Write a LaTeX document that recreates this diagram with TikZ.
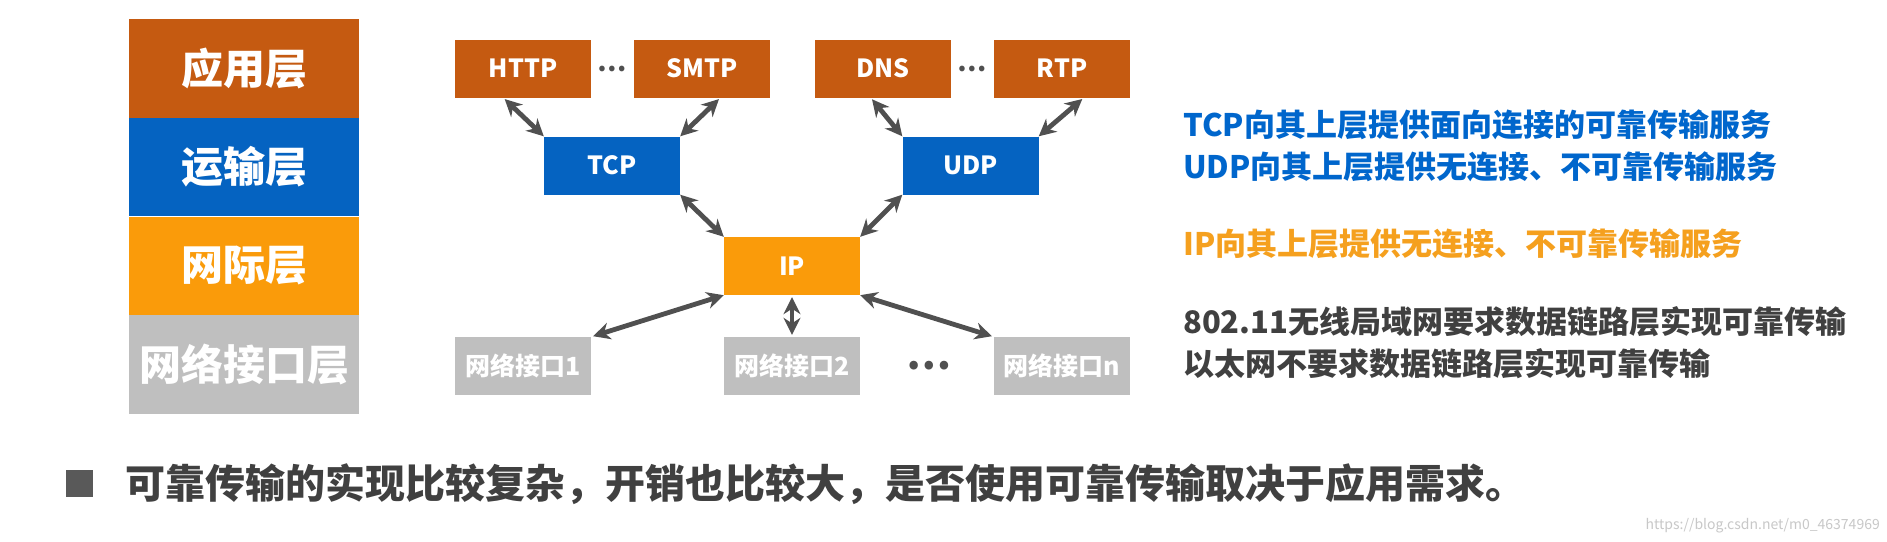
\documentclass[tikz,border=0pt]{standalone}
\usepackage{fontspec}
\setmainfont{Noto Sans CJK SC}
\usetikzlibrary{arrows.meta,calc}
\definecolor{appc}{RGB}{197,90,17}
\definecolor{trc}{RGB}{5,99,193}
\definecolor{ipc}{RGB}{250,155,10}
\definecolor{nic}{RGB}{191,191,191}
\definecolor{arrc}{RGB}{80,80,80}
\definecolor{bluetxt}{RGB}{0,102,204}
\definecolor{orgtxt}{RGB}{245,160,30}
\definecolor{graytxt}{RGB}{64,64,64}
\definecolor{sqc}{RGB}{89,89,89}
\definecolor{wmk}{RGB}{200,200,200}
\begin{document}
\begin{tikzpicture}[x=1pt,y=-1pt,
  layer/.style={minimum width=230pt, minimum height=98.75pt, inner sep=0pt, text=white,
    font=\fontsize{42}{42}\selectfont\bfseries},
  proto/.style={minimum width=136pt, minimum height=58pt, inner sep=0pt, text=white,
    font=\fontsize{25}{25}\selectfont\bfseries},
  link/.style={{Stealth[length=17pt,width=17pt]}-{Stealth[length=17pt,width=17pt]},
    line width=4.8pt, draw=arrc},
  dotsnode/.style={text=arrc, inner sep=0pt, font=\fontsize{26}{26}\selectfont\bfseries},
  note/.style={anchor=west, inner sep=0pt, font=\fontsize{31}{31}\selectfont\bfseries}]
\useasboundingbox[fill=white] (0,0) rectangle (1887,541);

% layer stack
\node[layer, fill=appc] (l1) at (244,68.4) {应用层};
\node[layer, fill=trc]  (l2) at (244,167.1) {运输层};
\node[layer, fill=ipc]  (l3) at (244,265.9) {网际层};
\node[layer, fill=nic]  (l4) at (244,364.6) {网络接口层};

% protocol boxes
\node[proto, fill=appc] (http) at (523,68.5) {HTTP};
\node[proto, fill=appc] (smtp) at (702,68.5) {SMTP};
\node[proto, fill=appc] (dns)  at (883,68.5) {DNS};
\node[proto, fill=appc] (rtp)  at (1062,68.5) {RTP};
\node[dotsnode] (d1) at (612.5,68.5) {…};
\node[dotsnode] (d2) at (972.5,68.5) {…};

\node[proto, fill=trc] (tcp) at (612,165.5) {TCP};
\node[proto, fill=trc] (udp) at (970.5,165.5) {UDP};

\node[proto, fill=ipc] (ip) at (792,266) {IP};

\node[proto, fill=nic] (n1) at (523,366) {网络接口1};
\node[proto, fill=nic] (n2) at (792,366) {网络接口2};
\node[proto, fill=nic] (nn) at (1062,366) {网络接口n};
\node[dotsnode, font=\fontsize{40}{40}\selectfont\bfseries] (d3) at (929,366) {…};

% connectors
\draw[link, shorten <=2pt] ($(http.south west)!0.355!(http.south east)$) -- (tcp.north west);
\draw[link, shorten <=2pt] ($(smtp.south west)!0.635!(smtp.south east)$) -- (tcp.north east);
\draw[link, shorten <=2pt] ($(dns.south west)!0.41!(dns.south east)$) -- (udp.north west);
\draw[link, shorten <=2pt] ($(rtp.south west)!0.66!(rtp.south east)$) -- (udp.north east);
\draw[link] (tcp.south east) -- (ip.north west);
\draw[link] (udp.south west) -- (ip.north east);
\draw[link, shorten >=2pt] (ip.south west) -- (n1.north east);
\draw[link, shorten >=2pt, shorten <=2pt] (ip.south) -- (n2.north);
\draw[link, shorten >=2pt] (ip.south east) -- (nn.north west);

% notes
\node[note, text=bluetxt] (t1) at (1183,125) {TCP向其上层提供面向连接的可靠传输服务};
\node[note, text=bluetxt] (t2) at (1183,167) {UDP向其上层提供无连接、不可靠传输服务};
\node[note, text=orgtxt]  (t3) at (1183,244) {IP向其上层提供无连接、不可靠传输服务};
\node[note, text=graytxt] (t4) at (1183,322) {802.11无线局域网要求数据链路层实现可靠传输};
\node[note, text=graytxt] (t5) at (1183,364) {以太网不要求数据链路层实现可靠传输};

% bottom line
\node[fill=sqc, minimum size=27pt, inner sep=0pt] (sq) at (79.5,483) {};
\node[anchor=west, inner sep=0pt, text=graytxt, font=\fontsize{40}{40}\selectfont\bfseries] (bt) at (125,484)
  {可靠传输的实现比较复杂，开销也比较大，是否使用可靠传输取决于应用需求。};

\node[anchor=east, inner sep=0pt, text=wmk, font=\fontsize{14}{14}\selectfont] (wm) at (1880,526)
  {https://blog.csdn.net/m0\_46374969};
\end{tikzpicture}
\end{document}
